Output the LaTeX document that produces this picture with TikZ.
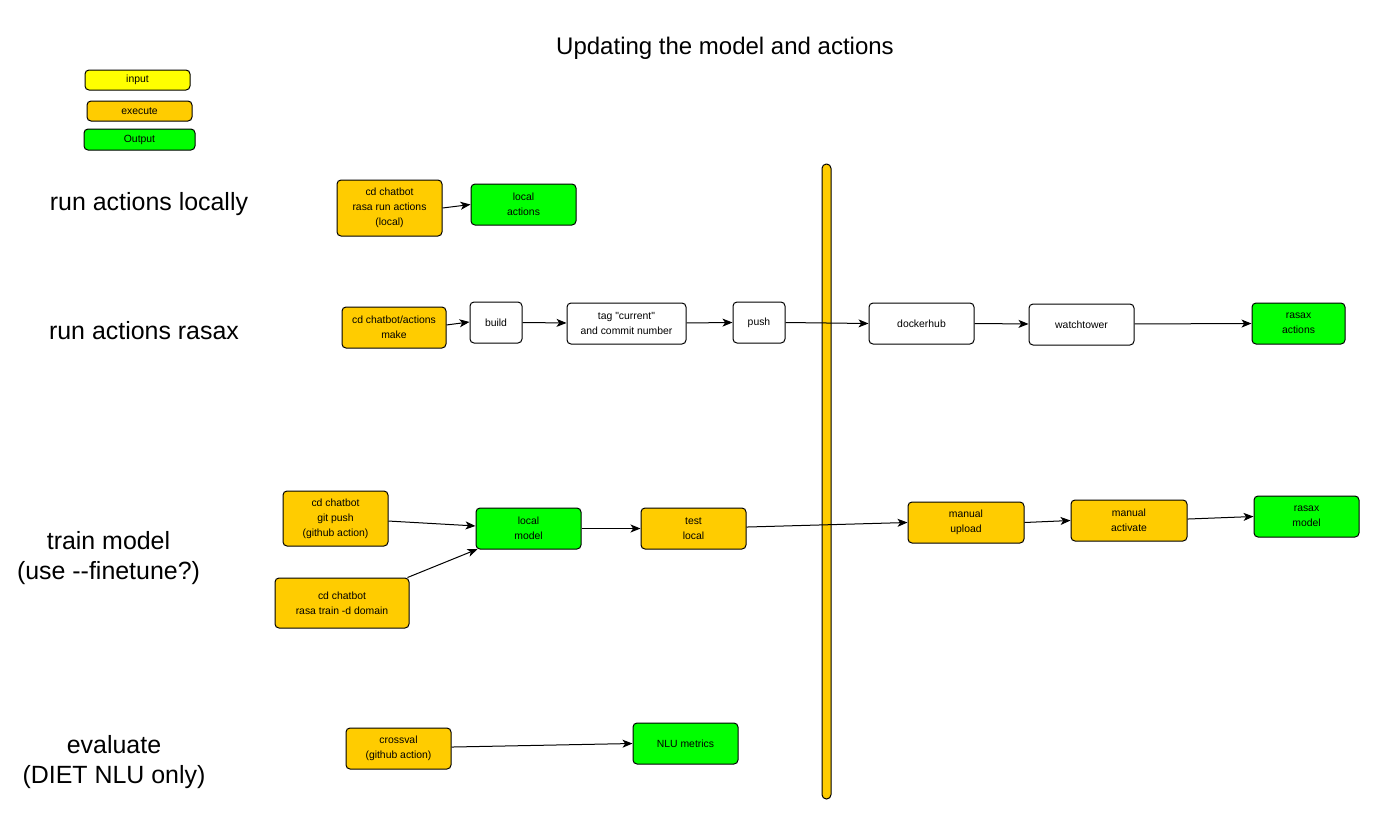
\documentclass[tikz,border=0pt]{standalone}
\usepackage{fontspec}
\newfontfamily\af{Liberation Sans}
\usetikzlibrary{arrows.meta}
\definecolor{cyel}{HTML}{FFFF00}
\definecolor{cora}{HTML}{FFCC00}
\definecolor{cgrn}{HTML}{00FF00}
\tikzset{
  sz/.style 2 args={minimum width=#1*0.75pt, minimum height=#2*0.75pt},
  box/.style={draw=black, line width=0.75pt, rounded corners=3pt, inner sep=0pt,
    align=center, font=\af\fontsize{7.8}{11.25}\selectfont},
  inbox/.style={box, fill=cyel},
  exbox/.style={box, fill=cora},
  outbox/.style={box, fill=cgrn},
  plainbox/.style={box, fill=white},
  biglabel/.style={inner sep=0pt, align=center, font=\af\fontsize{18.7}{22.5}\selectfont},
  titlelabel/.style={inner sep=0pt, align=center, font=\af\fontsize{18}{22.5}\selectfont},
  arr/.style={draw=black, line width=0.75pt, -{Stealth[length=7.5pt,width=6pt,inset=2pt]}}
}
\begin{document}
\begin{tikzpicture}[x=0.75pt,y=-0.75pt]
\useasboundingbox (0,0) rectangle (1375,815);
\fill[white] (0,0) rectangle (1375,815);

% title and labels
\node[titlelabel] (title) at (725,48) {Updating the model and actions};
\node[biglabel] (l1) at (149,204) {run actions locally};
\node[biglabel] (l2) at (144,331) {run actions rasax};
\node[biglabel] (l3) at (108.5,558) {train model\\(use -{}-finetune?)};
\node[biglabel] (l4) at (114,762) {evaluate\\(DIET NLU only)};

% legend
\node[inbox, sz={105}{20}] (legin) at (137.5,80) {input};
\node[exbox, sz={105}{20}] (legex) at (139.5,111) {execute};
\node[outbox, sz={111}{21}] (legout) at (139.5,139.5) {Output};

% separator bar
\draw[fill=cora, draw=black, line width=0.75pt, rounded corners=3.3pt] (822,164) rectangle (831,799);

% row 1
\node[exbox, sz={105}{56}] (cdlocal) at (389.5,208) {cd chatbot\\rasa run actions\\(local)};
\node[outbox, sz={105}{41}] (localactions) at (523.5,204.5) {local\\actions};

% row 2
\node[exbox, sz={104}{41}] (cdmake) at (394,327.5) {cd chatbot/actions\\make};
\node[plainbox, sz={52}{41}] (build) at (496,322.5) {build};
\node[plainbox, sz={119}{41}] (tag) at (626.5,323.5) {tag "current"\\and commit number};
\node[plainbox, sz={52}{41}] (push) at (759,322.5) {push};
\node[plainbox, sz={105}{41}] (dockerhub) at (921.5,323.5) {dockerhub};
\node[plainbox, sz={105}{41}] (watchtower) at (1081.5,324.5) {watchtower};
\node[outbox, sz={93}{41}] (rasaxactions) at (1298.5,323.5) {rasax\\actions};

% row 3
\node[exbox, sz={105}{55}] (gitpush) at (335.5,518.5) {cd chatbot\\git push\\(github action)};
\node[exbox, sz={134}{50}] (raintrain) at (342,603) {cd chatbot\\rasa train -d domain};
\node[outbox, sz={105}{41}] (localmodel) at (528.5,528.5) {local\\model};
\node[exbox, sz={105}{41}] (testlocal) at (693.5,528.5) {test\\local};
\node[exbox, sz={116}{41}] (manualupload) at (966,522.5) {manual\\upload};
\node[exbox, sz={116}{41}] (manualactivate) at (1129,520.5) {manual\\activate};
\node[outbox, sz={105}{41}] (rasaxmodel) at (1306.5,516.5) {rasax\\model};

% row 4
\node[exbox, sz={105}{41}] (crossval) at (398.5,748.5) {crossval\\(github action)};
\node[outbox, sz={105}{41}] (nlumetrics) at (685.5,743.5) {NLU metrics};

% connectors
\draw[arr] (cdlocal.east) -- (localactions.west);
\draw[arr] ([yshift=1.9pt]cdmake.east) -- ([yshift=0.4pt]build.west);
\draw[arr] (build.east) -- ([yshift=0.4pt]tag.west);
\draw[arr] ([yshift=0.4pt]tag.east) -- (push.west);
\draw[arr] (push.east) -- (dockerhub.west);
\draw[arr] (dockerhub.east) -- ([yshift=0.4pt]watchtower.west);
\draw[arr] ([yshift=0.4pt]watchtower.east) -- (rasaxactions.west);
\draw[arr] ([yshift=-1.9pt]gitpush.east) -- ([yshift=1.9pt]localmodel.west);
\draw[arr] ([xshift=-1.5pt]raintrain.north east) -- ([xshift=1.5pt,yshift=0.3pt]localmodel.south west);
\draw[arr] (localmodel.east) -- (testlocal.west);
\draw[arr] ([yshift=1.1pt]testlocal.east) -- (manualupload.west);
\draw[arr] (manualupload.east) -- (manualactivate.west);
\draw[arr] ([yshift=1.1pt]manualactivate.east) -- (rasaxmodel.west);
\draw[arr] ([yshift=1.1pt]crossval.east) -- (nlumetrics.west);
\end{tikzpicture}
\end{document}
